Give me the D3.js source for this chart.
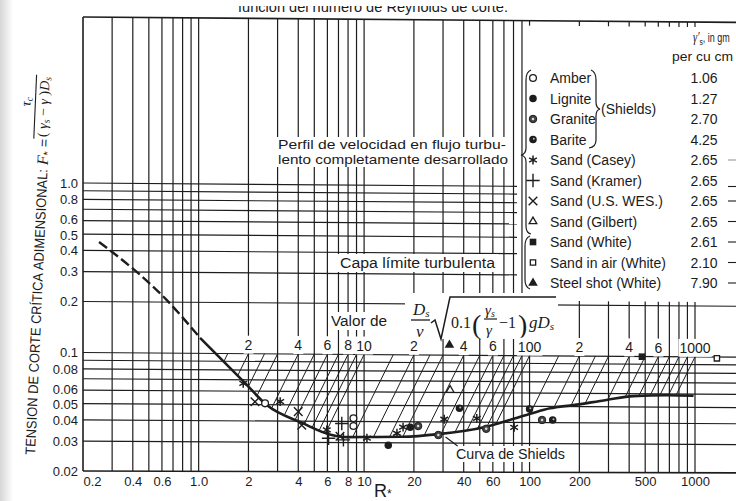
<!DOCTYPE html>
<html>
<head>
<meta charset="utf-8">
<script src="https://cdn.jsdelivr.net/npm/d3@7"></script>
<style>
body { margin: 0; background: #fff; }
svg { display: block; }
text { font-family: "Liberation Sans", Arial, sans-serif; fill: #1b1b1b; }
.math { font-family: "Liberation Serif", "DejaVu Serif", serif; }
</style>
</head>
<body>
<svg id="chart" width="736" height="501"></svg>
<script>
// Shields curve (R*, tau*)
const curveR = [0.25, 0.29, 0.64, 1.02, 1.91, 2.58, 4.22, 6.38, 7.86, 10.4, 17, 28.1, 55, 100, 133, 184, 292, 423, 676, 980];
const curveT = [0.449, 0.403, 0.206, 0.1234, 0.067, 0.0497, 0.0391, 0.0332, 0.0323, 0.0324, 0.0326, 0.0339, 0.0377, 0.045, 0.0487, 0.051, 0.0549, 0.058, 0.0589, 0.0586];
const dashedUpTo = 1.02;

// measured points
const pointR = [1.86, 3.11, 5.95, 10.4, 15.8, 17.2, 30.5, 48, 80.7,
                2.19, 4.0, 4.2, 7.15,
                2.52, 8.62, 8.62,
                6.1, 7.33, 7.5,
                14.0, 19.0,
                21.2, 28.1, 54.7, 119,
                37.7, 100, 138,
                33.1, 32.8, 478, 1356];
const pointT = [0.0667, 0.0522, 0.0356, 0.0319, 0.0342, 0.0372, 0.0416, 0.0422, 0.0374,
                0.052, 0.0456, 0.0379, 0.0327,
                0.0509, 0.0418, 0.0376,
                0.0318, 0.0389, 0.0311,
                0.029, 0.0372,
                0.0378, 0.0335, 0.0366, 0.0415,
                0.0484, 0.0481, 0.0415,
                0.062, 0.1147, 0.0997, 0.0982];
const pointKind = ['casey', 'casey', 'casey', 'casey', 'casey', 'casey', 'casey', 'casey', 'casey',
                   'wes', 'wes', 'wes', 'wes',
                   'amber', 'amber', 'amber',
                   'kramer', 'kramer', 'kramer',
                   'lignite', 'lignite',
                   'granite', 'granite', 'granite', 'granite',
                   'barite', 'barite', 'barite',
                   'gilbert', 'steel', 'white', 'air'];

// legend
const legendKind = ['amber', 'lignite', 'granite', 'barite', 'casey', 'kramer', 'wes', 'gilbert', 'white', 'air', 'steel'];
const legendName = ['Amber', 'Lignite', 'Granite', 'Barite', 'Sand (Casey)', 'Sand (Kramer)', 'Sand (U.S. WES.)',
                    'Sand (Gilbert)', 'Sand (White)', 'Sand in air (White)', 'Steel shot (White)'];
const legendGamma = ['1.06', '1.27', '2.70', '4.25', '2.65', '2.65', '2.65', '2.65', '2.61', '2.10', '7.90'];

// axes
const xTickVals = [0.2, 0.4, 0.6, 1, 2, 4, 6, 8, 10, 20, 40, 60, 100, 200, 500, 1000];
const xTickLabels = ['0.2', '0.4', '0.6', '1.0', '2', '4', '6', '8', '10', '20', '40', '60', '100', '200', '500', '1000'];
const yTickVals = [1, 0.8, 0.6, 0.5, 0.4, 0.3, 0.2, 0.1, 0.08, 0.06, 0.05, 0.04, 0.03, 0.02];
const yTickLabels = ['1.0', '0.8', '0.6', '0.5', '0.4', '0.3', '0.2', '0.1', '0.08', '0.06', '0.05', '0.04', '0.03', '0.02'];

// grid
const gridR = [0.3, 0.4, 0.5, 0.6, 0.7, 0.8, 0.9, 1, 2, 3, 4, 5, 6, 7, 8, 9, 10, 20, 30, 40, 50, 60, 70, 80, 90,
               100, 200, 300, 400, 500, 600, 700, 800, 900, 1000];
const gridTopT = [1, 0.9, 0.8, 0.7, 0.6, 0.5, 0.4, 0.3];
const gridLowT = [0.2, 0.1, 0.09, 0.08, 0.07, 0.06, 0.05, 0.04, 0.03];

// D/v sqrt(0.1(gs/g-1)gD) scale on the 0.1 line
const paramR = [1.5, 2, 2.5, 3, 4, 5, 6, 7, 8, 9, 10, 15, 20, 25, 30, 40, 50, 60, 70, 80, 90,
                100, 150, 200, 250, 300, 400, 500, 600, 700, 800, 900, 1000];
const paramTicks = [2, 4, 6, 8, 10, 20, 40, 60, 100, 200, 400, 600, 1000];
const paramLabels = ['2', '4', '6', '8', '10', '2', '4', '6', '100', '2', '4', '6', '1000'];

const W = 736, H = 501;
const topY = 17, legendX = 517;
const ink = '#1d1d1d';

const svg = d3.select('#chart');
const x = d3.scaleLog().domain([0.2, 1000]).range([83, 695]);
const y = d3.scaleLog().domain([0.02, 1]).range([471, 183]);

// the scanned sheet sags to the right, more at the top than at the bottom
const sag = d3.scaleLinear().domain([471, 442, 354, 17]).range([0.0028, 0.0054, 0.0071, 0.0082]).clamp(true);
const P = (px, py) => [px, py + sag(py) * (px - x(0.2))];
const seg = (g, a, b) => g.append('path').attr('d', d3.line()([P(a[0], a[1]), P(b[0], b[1])]));

// scan edge shading
const grad = svg.append('defs').append('linearGradient').attr('id', 'edge');
grad.append('stop').attr('offset', '0%').attr('stop-color', '#d6d6d6');
grad.append('stop').attr('offset', '100%').attr('stop-color', '#fff');
svg.append('rect').attr('width', 13).attr('height', H).attr('fill', 'url(#edge)');

function whiteBg(sel, px, py) {
  sel.each(function () {
    const b = this.getBBox();
    d3.select(this.parentNode).insert('rect', () => this)
      .attr('x', b.x - px).attr('y', b.y - py)
      .attr('width', b.width + 2 * px).attr('height', b.height + 2 * py)
      .attr('fill', '#fff');
  });
}

// grid
const grid = svg.append('g').attr('stroke', ink).attr('stroke-width', 1.2).attr('fill', 'none');
gridR.forEach(r => {
  seg(grid, [x(r), r < 100 ? topY : y(0.2) - 4], [x(r), y(0.02)]);
  if (r >= 100) seg(grid, [x(r), topY], [x(r), topY + 5]);
});
gridTopT.forEach(t => seg(grid, [x(0.2), y(t)], [legendX, y(t)]));
gridLowT.forEach(t => seg(grid, [x(0.2), y(t)], [W, y(t)]));
seg(grid, [x(0.2), topY], [x(0.2), y(0.02)]).attr('stroke-width', 1.6);
seg(grid, [x(0.2), topY], [W, topY]).attr('stroke-width', 1.6);
seg(grid, [x(0.2), y(0.02)], [W, y(0.02)]).attr('stroke-width', 1.6);

// axes
const xAxis = svg.append('g')
  .attr('transform', `translate(0,${y(0.02)})`)
  .call(d3.axisBottom(x).tickValues(xTickVals).tickFormat((d, i) => xTickLabels[i]).tickSize(0).tickPadding(6))
  .call(g => g.select('.domain').remove());
xAxis.selectAll('text').attr('font-size', 13).attr('font-family', '"Liberation Sans", Arial, sans-serif').attr('fill', ink);
xAxis.select('.tick:first-of-type text').attr('dx', 9);

const yAxis = svg.append('g')
  .attr('transform', `translate(${x(0.2)},0)`)
  .call(d3.axisLeft(y).tickValues(yTickVals).tickFormat((d, i) => yTickLabels[i]).tickSize(0).tickPadding(5))
  .call(g => g.select('.domain').remove());
yAxis.selectAll('text').attr('font-size', 13).attr('font-family', '"Liberation Sans", Arial, sans-serif').attr('fill', ink)
  .attr('dy', d => (d === 0.6 || d === 0.06) ? '0.24em' : (d === 0.5 || d === 0.05) ? '0.4em' : '0.32em');

// top title, cut off by the scan
svg.append('text').attr('x', 238).attr('y', 12).attr('font-size', 14).attr('fill', '#555')
  .attr('textLength', 270).attr('lengthAdjust', 'spacingAndGlyphs')
  .text('función del número de Reynolds de corte.');
svg.append('rect').attr('x', 200).attr('y', 0).attr('width', 330).attr('height', 6).attr('fill', '#fff');

// annotations in the grid
const notes = svg.append('g');
const perfil = notes.selectAll('text.perfil')
  .data(['Perfil de velocidad en flujo turbu-', 'lento completamente desarrollado'])
  .join('text').attr('class', 'perfil')
  .attr('x', 278).attr('y', (d, i) => 149 + i * 15)
  .attr('font-size', 13).attr('textLength', (d, i) => i ? 230 : 228).attr('lengthAdjust', 'spacingAndGlyphs')
  .text(d => d);
whiteBg(perfil, 2, 0);

const capa = notes.append('text').attr('x', 340).attr('y', 268).attr('font-size', 14)
  .attr('textLength', 155).attr('lengthAdjust', 'spacingAndGlyphs').text('Capa límite turbulenta');
whiteBg(capa, 3, 1);

const valor = notes.append('text').attr('x', 331).attr('y', 326).attr('font-size', 14)
  .attr('textLength', 56).attr('lengthAdjust', 'spacingAndGlyphs').text('Valor de');
whiteBg(valor, 3, 1);

// formula  D/v sqrt(0.1(gs/g - 1) g D)
notes.append('rect').attr('x', 405).attr('y', 293).attr('width', 153).attr('height', 46).attr('fill', '#fff');
const f = notes.append('g').attr('class', 'math').attr('fill', ink);
const mtext = (px, py, s, size, it) => f.append('text').attr('class', 'math').attr('x', px).attr('y', py)
  .attr('font-size', size).attr('font-style', it ? 'italic' : 'normal').text(s);
mtext(413, 315, 'D', 17, true).append('tspan').attr('font-size', 11).attr('dy', 2).text('s');
f.append('line').attr('x1', 411).attr('x2', 430).attr('y1', 320).attr('y2', 320).attr('stroke', ink).attr('stroke-width', 1.3);
mtext(416, 337, 'ν', 17, true);
f.append('path').attr('d', 'M431,323 L435,320 L441,339 L450,297 L556,297')
  .attr('fill', 'none').attr('stroke', ink).attr('stroke-width', 1.5);
mtext(451, 328, '0.1', 16, false);
mtext(472, 334, '(', 28, false);
mtext(485, 315, 'γ', 15, true).append('tspan').attr('font-size', 10).attr('dy', 2).text('s');
f.append('line').attr('x1', 484).attr('x2', 497).attr('y1', 319).attr('y2', 319).attr('stroke', ink).attr('stroke-width', 1.2);
mtext(486, 335, 'γ', 15, true);
mtext(499, 328, '−1', 16, false);
mtext(518, 334, ')', 28, false);
mtext(529, 328, 'gD', 17, true).append('tspan').attr('font-size', 11).attr('dy', 2).text('s');

// parameter scale labels along the 0.1 line
const pl = notes.selectAll('text.plab').data(paramTicks).join('text').attr('class', 'plab')
  .attr('x', d => x(d)).attr('y', d => P(x(d), y(0.1))[1] - 4).attr('text-anchor', 'middle').attr('font-size', 14)
  .text((d, i) => paramLabels[i]);
whiteBg(pl, 1, 1);

// parameter lines: tau = 0.1 (R / X)^2, running down to the Shields curve
const logR = curveR.map(Math.log10), logT = curveT.map(Math.log10);
function curveAt(r) {
  const lr = Math.log10(r);
  if (lr <= logR[0]) return curveT[0];
  for (let i = 1; i < logR.length; i++) {
    if (lr <= logR[i]) {
      const k = (lr - logR[i - 1]) / (logR[i] - logR[i - 1]);
      return Math.pow(10, logT[i - 1] + k * (logT[i] - logT[i - 1]));
    }
  }
  return curveT[curveT.length - 1];
}
const diag = svg.append('g').attr('stroke', ink).attr('stroke-width', 1).attr('fill', 'none');
paramR.forEach(X => {
  let r = X;
  while (r > X / 5 && 0.1 * (r / X) * (r / X) > curveAt(r)) r *= 0.998;
  seg(diag, [x(X), y(0.1)], [x(r), y(0.1 * (r / X) * (r / X))]);
});

// Shields curve
const pts = curveR.map((r, i) => P(x(r), y(curveT[i])).concat(r));
const line = d3.line().curve(d3.curveMonotoneX);
svg.append('path').datum(pts.filter(d => d[2] <= dashedUpTo).map(d => [d[0], d[1]]))
  .attr('d', line).attr('fill', 'none').attr('stroke', ink).attr('stroke-width', 2.4)
  .attr('stroke-dasharray', '10,4');
svg.append('path').datum(pts.filter(d => d[2] >= dashedUpTo).map(d => [d[0], d[1]]))
  .attr('d', line).attr('fill', 'none').attr('stroke', ink).attr('stroke-width', 2.6)
  .attr('stroke-linejoin', 'round');

// curve label
const cl = notes.append('text').attr('x', 456).attr('y', 459).attr('font-size', 14)
  .attr('textLength', 109).attr('lengthAdjust', 'spacingAndGlyphs').text('Curva de Shields');
whiteBg(cl, 2, 0);
const tip = P(x(29), y(0.0335));
svg.append('line').attr('x1', tip[0] + 5).attr('y1', tip[1] + 2).attr('x2', tip[0] + 17).attr('y2', tip[1] + 11)
  .attr('stroke', ink).attr('stroke-width', 1.2);

// markers
function marker(g, kind) {
  const sym = (type, size) => g.append('path').attr('d', d3.symbol().type(type).size(size)());
  switch (kind) {
    case 'amber': sym(d3.symbolCircle, 36).attr('fill', '#fff').attr('stroke', ink).attr('stroke-width', 1.3); break;
    case 'lignite': sym(d3.symbolCircle, 44).attr('fill', ink); break;
    case 'granite':
      sym(d3.symbolCircle, 44).attr('fill', '#444').attr('stroke', ink).attr('stroke-width', 1);
      sym(d3.symbolCircle, 5).attr('fill', '#ddd'); break;
    case 'barite':
      sym(d3.symbolCircle, 44).attr('fill', ink);
      g.append('circle').attr('cx', 0.8).attr('cy', -0.8).attr('r', 1).attr('fill', '#bbb'); break;
    case 'casey': sym(d3.symbolAsterisk, 55).attr('fill', 'none').attr('stroke', ink).attr('stroke-width', 1.5); break;
    case 'kramer': sym(d3.symbolPlus, 60).attr('fill', 'none').attr('stroke', ink).attr('stroke-width', 1.4); break;
    case 'wes': sym(d3.symbolTimes, 50).attr('fill', 'none').attr('stroke', ink).attr('stroke-width', 1.4); break;
    case 'gilbert': sym(d3.symbolTriangle2, 42).attr('fill', '#fff').attr('stroke', ink).attr('stroke-width', 1.3); break;
    case 'white': sym(d3.symbolSquare, 44).attr('fill', ink); break;
    case 'air': sym(d3.symbolSquare2, 36).attr('fill', '#fff').attr('stroke', ink).attr('stroke-width', 1.3); break;
    case 'steel': sym(d3.symbolTriangle, 40).attr('fill', ink); break;
  }
}
const mk = svg.append('g');
pointR.forEach((r, i) => {
  const p = P(x(r), y(pointT[i]));
  marker(mk.append('g').attr('transform', `translate(${p[0]},${p[1]})`), pointKind[i]);
});

// legend
const leg = svg.append('g');
const rowY = i => 78 + i * 20.5;
const hdr = leg.append('g').attr('transform', 'translate(693,42) scale(0.75,1)')
  .append('text').attr('x', 0).attr('y', 0).attr('font-size', 12);
hdr.append('tspan').attr('class', 'math').attr('font-style', 'italic').attr('font-size', 14).text('γ′');
hdr.append('tspan').attr('font-size', 9).attr('dy', 3).text('s');
hdr.append('tspan').attr('dy', -3).text(', in gm');
leg.append('text').attr('x', 672).attr('y', 61).attr('font-size', 13)
  .attr('textLength', 61).attr('lengthAdjust', 'spacingAndGlyphs').text('per cu cm');
legendKind.forEach((k, i) => {
  marker(leg.append('g').attr('transform', `translate(533,${rowY(i)})`), k);
  leg.append('text').attr('x', 550).attr('y', rowY(i) + 5).attr('font-size', 14).text(legendName[i]);
  leg.append('text').attr('x', 704).attr('y', rowY(i) + 5).attr('font-size', 14)
    .attr('text-anchor', 'middle').text(legendGamma[i]);
  if (i >= 4) {
    const dy = i === 5 ? 6 : 0;
    leg.append('line').attr('x1', 728).attr('x2', W).attr('y1', rowY(i) + dy).attr('y2', rowY(i) + dy)
      .attr('stroke', i === 4 ? '#999' : ink).attr('stroke-width', 1.1);
  }
});
leg.append('text').attr('x', 601).attr('y', rowY(1.5) + 5).attr('font-size', 14).text('(Shields)');
const braces = leg.append('g').attr('fill', 'none').attr('stroke', ink).attr('stroke-width', 1.2);
braces.append('path').attr('d', 'M591,70 Q596,72 596,80 L596,102 Q596,108 600,109 Q596,110 596,116 L596,140 Q596,147 589,148');
braces.append('path').attr('d', 'M531,70 Q526,72 526,80 L526,148 Q526,154 521,155 Q526,156 526,162 L526,226 Q526,233 531,234');
braces.append('path').attr('d', 'M530,236 Q525,238 525,246 L525,280 Q525,287 530,289');

// y title, slightly tilted like the scan; one text per word
const yt = svg.append('g').attr('transform', 'translate(35,455) rotate(-87.5)');
const full = yt.append('text').attr('font-size', 14)
  .attr('textLength', 286).attr('lengthAdjust', 'spacingAndGlyphs')
  .text('TENSION DE CORTE CRÍTICA ADIMENSIONAL:');
const fullNode = full.node(), fullStr = full.text();
let pos = 0;
fullStr.split(' ').forEach(w => {
  const a = fullNode.getStartPositionOfChar(pos).x;
  const b = fullNode.getEndPositionOfChar(pos + w.length - 1).x;
  yt.append('text').attr('x', a).attr('y', 0).attr('font-size', 14)
    .attr('textLength', b - a).attr('lengthAdjust', 'spacingAndGlyphs').text(w);
  pos += w.length + 1;
});
full.remove();
const ft = yt.append('text').attr('x', 290).attr('y', 0).attr('font-size', 14);
ft.append('tspan').attr('class', 'math').attr('font-style', 'italic').attr('font-size', 16).text('F');
ft.append('tspan').attr('font-size', 11).attr('dy', 3).text('*');
ft.append('tspan').attr('dy', -3).text(' =');
yt.append('line').attr('x1', 316).attr('x2', 380).attr('y1', -15).attr('y2', -15).attr('stroke', ink).attr('stroke-width', 1.1);
const num = yt.append('text').attr('class', 'math').attr('x', 348).attr('y', -20).attr('font-size', 14).attr('font-style', 'italic');
num.append('tspan').text('τ');
num.append('tspan').attr('font-size', 10).attr('dy', 2).text('c');
const den = yt.append('text').attr('class', 'math').attr('x', 318).attr('y', -2).attr('font-size', 14).attr('font-style', 'italic');
den.append('tspan').attr('font-style', 'normal').text('( ');
den.append('tspan').text('γ');
den.append('tspan').attr('font-size', 10).attr('dy', 2).text('s');
den.append('tspan').attr('dy', -2).attr('font-style', 'normal').text(' − ');
den.append('tspan').text('γ');
den.append('tspan').attr('font-style', 'normal').text(' )');
den.append('tspan').text('D');
den.append('tspan').attr('font-size', 10).attr('dy', 2).text('s');

// x title
const xt = svg.append('text').attr('x', 374).attr('y', 497).attr('font-size', 18);
xt.append('tspan').text('R');
xt.append('tspan').attr('font-size', 12).attr('dy', 1).text('*');
</script>
</body>
</html>
